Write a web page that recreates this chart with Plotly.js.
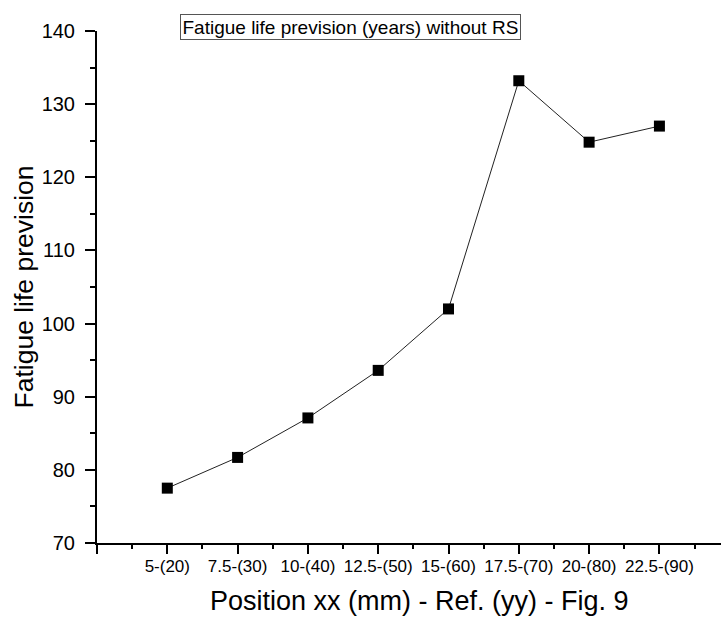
<!DOCTYPE html>
<html>
<head>
<meta charset="utf-8">
<script src="https://cdn.plot.ly/plotly-3.0.1.min.js"></script>
<style>html,body{margin:0;padding:0;background:#fff;overflow:hidden;}</style>
</head>
<body>
<div id="chart" style="width:721px;height:617px;"></div>
<script>
var categories = ['5-(20)', '7.5-(30)', '10-(40)', '12.5-(50)', '15-(60)', '17.5-(70)', '20-(80)', '22.5-(90)'];
var fatigueLife = [77.5, 81.7, 87.1, 93.6, 102.0, 133.2, 124.8, 127.0];
var boxTitle = 'Fatigue life prevision (years) without RS';
var xTitle = 'Position xx (mm) - Ref. (yy) - Fig. 9';
var yTitle = 'Fatigue life prevision';

var xPos = categories.map(function (c, i) { return i + 1; });
var tickVals = [0].concat(xPos);
var tickText = [''].concat(categories);

var FONT = '"Liberation Sans", Arial, sans-serif';

var trace = {
  x: xPos,
  y: fatigueLife,
  type: 'scatter',
  mode: 'lines+markers',
  line: {color: '#222', width: 1},
  marker: {symbol: 'square', size: 11, color: '#000'},
  hoverinfo: 'y'
};

var layout = {
  width: 721, height: 617,
  margin: {l: 97, r: 0, t: 31, b: 74, pad: 0},
  paper_bgcolor: '#fff', plot_bgcolor: '#fff',
  font: {family: FONT, color: '#000'},
  showlegend: false,
  xaxis: {
    range: [0, 8.876],
    tickmode: 'array', tickvals: tickVals, ticktext: tickText,
    ticks: 'outside', ticklen: 9, tickwidth: 2, tickcolor: '#000',
    minor: {dtick: 0.5, tick0: 0, ticks: 'outside', ticklen: 4, tickwidth: 2, tickcolor: '#000', showgrid: false},
    showline: true, linecolor: '#000', linewidth: 2,
    showgrid: false, zeroline: false,
    tickfont: {size: 17, family: FONT, color: '#000'},
    ticklabelstandoff: -2,
    automargin: false
  },
  yaxis: {
    range: [70, 140],
    tickmode: 'linear', tick0: 70, dtick: 10,
    ticks: 'outside', ticklen: 10, tickwidth: 2, tickcolor: '#000',
    minor: {dtick: 5, tick0: 70, ticks: 'outside', ticklen: 5, tickwidth: 2, tickcolor: '#000', showgrid: false},
    showline: true, linecolor: '#000', linewidth: 2,
    showgrid: false, zeroline: false,
    tickfont: {size: 20, family: FONT, color: '#000'},
    ticklabelstandoff: 6,
    title: {text: yTitle, font: {size: 26.5, family: FONT, color: '#000'}, standoff: 0},
    automargin: false
  },
  annotations: [{
    text: boxTitle,
    xref: 'paper', yref: 'paper',
    x: (350 - 97) / 624, y: 1 + (31 - 27) / 512,
    xanchor: 'center', yanchor: 'middle',
    showarrow: false,
    font: {size: 19, family: FONT, color: '#000'},
    bordercolor: '#555', borderwidth: 1, borderpad: 1.5,
    bgcolor: '#fff'
  }, {
    text: xTitle,
    xref: 'paper', yref: 'paper',
    x: (419 - 97) / 624, y: -(601 - 543) / 512,
    xanchor: 'center', yanchor: 'middle',
    showarrow: false,
    font: {size: 27, family: FONT, color: '#000'}
  }]
};

Plotly.newPlot('chart', [trace], layout, {staticPlot: true, displayModeBar: false});
</script>
</body>
</html>
